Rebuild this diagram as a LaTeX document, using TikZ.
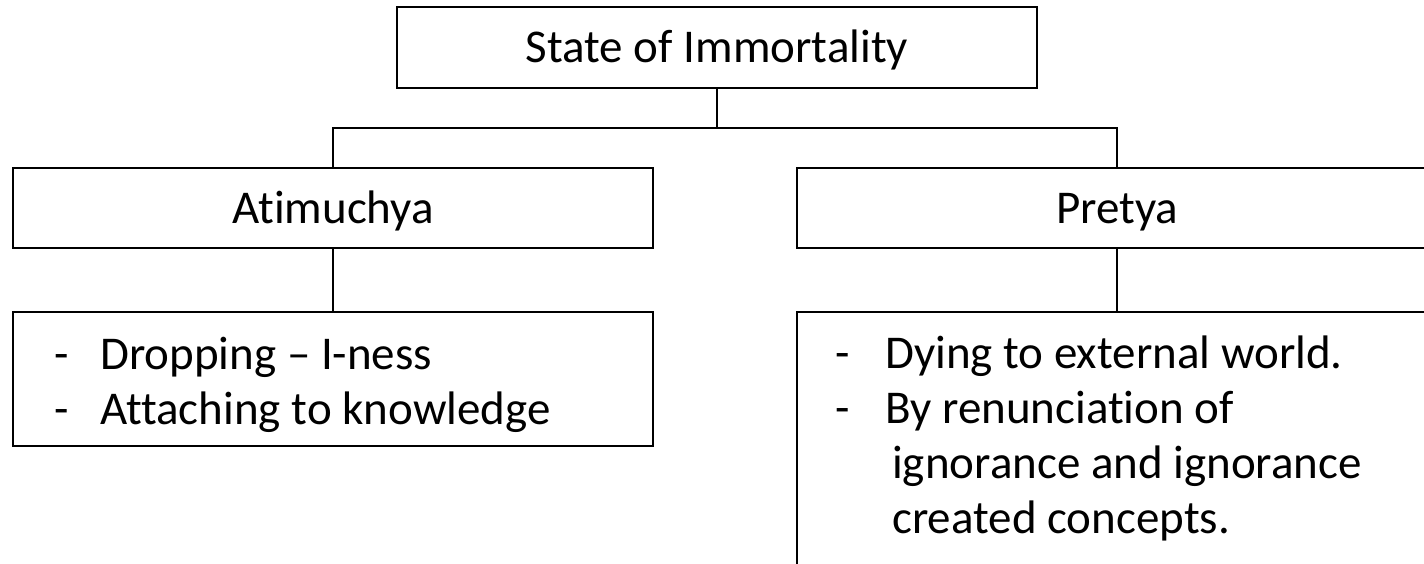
\documentclass[tikz,border=0pt]{standalone}
\usepackage{fontspec}
\setmainfont{Carlito}[Ligatures={NoCommon}]
\begin{document}
\begin{tikzpicture}[x=1pt,y=-1pt,
  box/.style={draw=black,line width=2.8pt,rectangle,inner sep=0pt,
    text height=30pt,text depth=0pt,font=\fontsize{47}{57}\selectfont},
  line/.style={anchor=base west,inner sep=0pt,font=\fontsize{47}{57}\selectfont},
  conn/.style={draw=black,line width=2pt},
  thinconn/.style={draw=black,line width=1.4pt}]
\clip (0,0) rectangle (1424,564);
\fill[white] (0,0) rectangle (1424,564);
% boxes
\node[box,minimum width=640pt,minimum height=81pt] (top) at (717,47.5) {State of Immortality};
\node[box,minimum width=640pt,minimum height=80pt] (ati) at (333,208) {Atimuchya};
\node[box,minimum width=640pt,minimum height=80pt] (pre) at (1117,208) {Pretya};
\node[box,minimum width=640pt,minimum height=134pt] (atilist) at (333,379) {};
\node[box,minimum width=640pt,minimum height=308pt] (prelist) at (1117,466) {};
% connectors
\coordinate (hub) at (717,128);
\draw[conn] (top.south) -- (hub);
\draw[conn] (hub) -| (ati.north);
\draw[conn] (hub) -| (pre.north);
\draw[thinconn] (ati.south) -- (atilist.north);
\draw[conn] (pre.south) -- (prelist.north);
% list texts
\node[line] (a1) at (54,369) {\makebox[46pt][l]{-}Dropping – I-ness};
\node[line] (a2) at (54,424) {\makebox[46pt][l]{-}Attaching to knowledge};
\node[line] (p1) at (835,368) {\makebox[50pt][l]{-}Dying to external world.};
\node[line] (p2) at (835,423) {\makebox[50pt][l]{-}By renunciation of};
\node[line] (p3) at (892,478) {ignorance and ignorance};
\node[line] (p4) at (892,533) {created concepts.};
\end{tikzpicture}
\end{document}
